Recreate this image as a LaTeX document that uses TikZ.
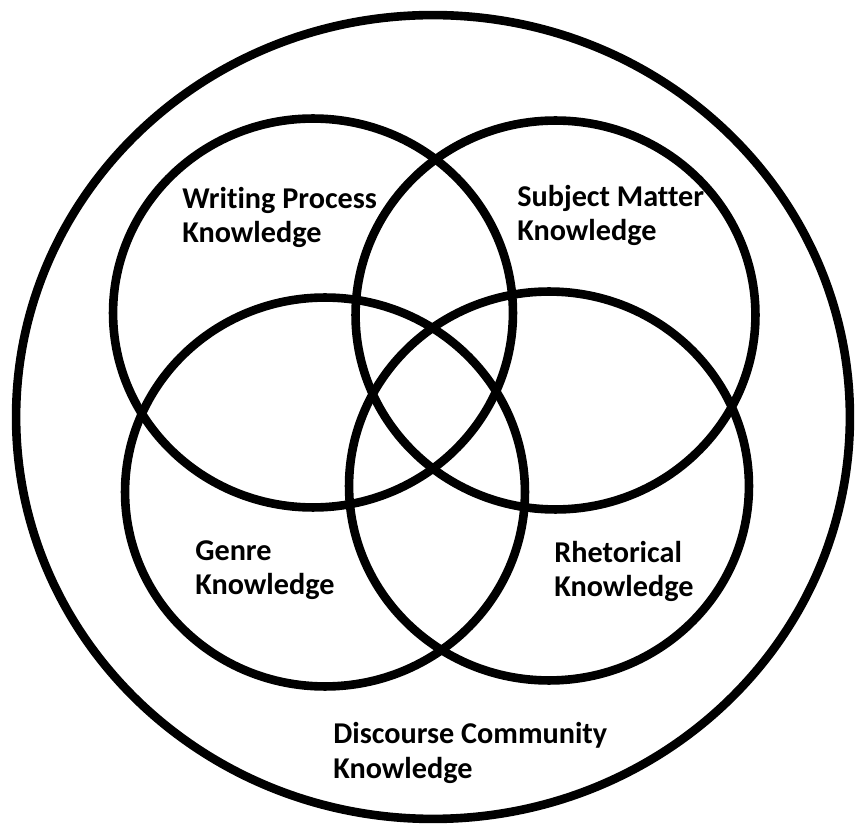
\documentclass[tikz,border=0pt]{standalone}
\usepackage{fontspec}
\setmainfont{Carlito}[Ligatures=NoCommon]
\usepackage{tikz}
\usetikzlibrary{
  shapes.geometric
}

\begin{document}
\begin{tikzpicture}[x=0.02cm,y=-0.02cm,line width=4.9pt,every text node part/.style={align=left},
  ring/.style={ellipse,draw=black,inner sep=0pt,minimum width=8cm,minimum height=7.78cm},
  knowtext/.style={anchor=base west,inner sep=0pt,font=\fontsize{17.2}{19.9}\selectfont\bfseries}]
  \useasboundingbox (0,0) rectangle (856,827);
  \node[ellipse,draw=black,inner sep=0pt,minimum width=16.68cm,minimum height=16.08cm] (0) at (433,417) {};
  \node[ring] (1) at (313,313) {};
  \node[ring] (2) at (555.5,315) {};
  \node[ring] (3) at (325,492) {};
  \node[ring] (4) at (549,486) {};
  \node[knowtext] (5) at (178,243) {Writing Process\\Knowledge};
  \node[knowtext] (6) at (513,241) {Subject Matter\\Knowledge};
  \node[knowtext] (7) at (191,595) {Genre\\Knowledge};
  \node[knowtext] (8) at (550,597) {Rhetorical\\Knowledge};
  \node[knowtext] (9) at (329,778) {Discourse Community\\Knowledge};
\end{tikzpicture}
\end{document}
